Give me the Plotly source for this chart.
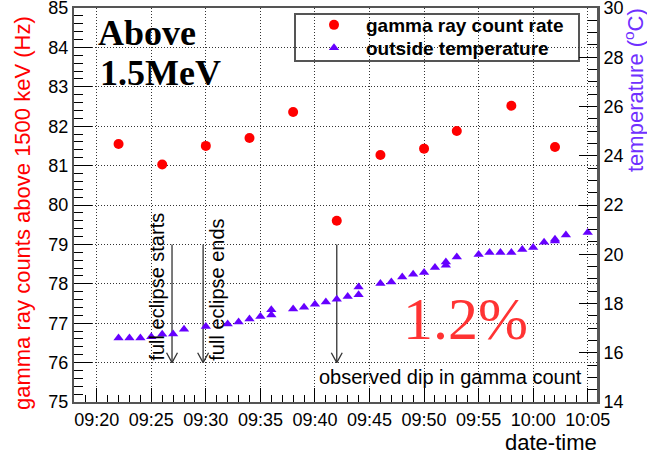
import plotly.graph_objects as go
import pandas as pd

DAY = "2017-08-21 "

# gamma ray count rate above 1500 keV (Hz)
gamma_times = ["09:22", "09:26", "09:30", "09:34", "09:38", "09:42",
               "09:46", "09:50", "09:53", "09:58", "10:02"]
gamma_rate = [81.55, 81.03, 81.50, 81.70, 82.36, 79.60,
              81.27, 81.43, 81.88, 82.52, 81.47]

# outside temperature (C)
temp_times = ["09:22", "09:23", "09:24", "09:25", "09:26", "09:27", "09:28",
              "09:30", "09:32", "09:33", "09:34", "09:35", "09:36", "09:36",
              "09:38", "09:39", "09:40", "09:41", "09:42", "09:43", "09:44",
              "09:44", "09:46", "09:47", "09:48", "09:49", "09:50", "09:51",
              "09:52", "09:52", "09:53", "09:55", "09:56", "09:57", "09:58",
              "09:59", "10:00", "10:01", "10:02", "10:02", "10:03", "10:05",
              "10:06"]
temp_vals = [16.60, 16.60, 16.60, 16.65, 16.75, 16.76, 16.95,
             17.07, 17.17, 17.25, 17.37, 17.47, 17.53, 17.75,
             17.78, 17.85, 17.97, 18.06, 18.17, 18.28, 18.36,
             18.67, 18.81, 18.87, 19.08, 19.19, 19.26, 19.46,
             19.55, 19.69, 19.89, 19.99, 20.07, 20.07, 20.07,
             20.19, 20.27, 20.49, 20.54, 20.61, 20.78, 20.88,
             20.94]

# annotated arrows
arrow_times = ["09:26:54", "09:29:45", "09:42:00"]
arrow_labels = ["full eclipse starts", "full eclipse ends", "observed dip in gamma count"]
arrow_top = 79.0
arrow_bottom = 76.0

x_range = [DAY + "09:17:55", DAY + "10:05:51"]
y_range = [75, 85]
y2_range = [14, 30]

gt = pd.to_datetime([DAY + t for t in gamma_times])
tt = pd.to_datetime([DAY + t for t in temp_times])
at = pd.to_datetime([DAY + t for t in arrow_times])

# plot area in pixels
PL, PR, PT, PB = 74, 597, 8, 402
W, H = 647, 459
def px_x(px):
    return (px - PL) / (PR - PL)
def px_y(py):
    return (PB - py) / (PB - PT)

RED = "#ff0000"
VIOLET = "#6600ff"
AXC = "#555555"
FONT = "Liberation Sans"

fig = go.Figure()
fig.add_trace(go.Scatter(
    x=gt, y=gamma_rate, mode="markers", name="gamma ray count rate",
    marker=dict(symbol="circle", size=10, color=RED), cliponaxis=False,
    legend="legend"))
fig.add_trace(go.Scatter(
    x=tt, y=temp_vals, mode="markers", name="outside temperature",
    marker=dict(symbol="triangle-up", size=9, color=VIOLET), yaxis="y2",
    cliponaxis=False, legend="legend2"))

# arrows (stem + open V head)
head_dt = pd.Timedelta(seconds=30)
head_dy = 0.25
ax_, ay_ = [], []
for t in at:
    ax_ += [t, t, None, t - head_dt, t, t + head_dt, None]
    ay_ += [arrow_top, arrow_bottom, None, arrow_bottom + head_dy, arrow_bottom,
            arrow_bottom + head_dy, None]
fig.add_trace(go.Scatter(x=ax_, y=ay_, mode="lines", showlegend=False,
                         line=dict(color="#333333", width=1.3), hoverinfo="skip"))

ann = []
ann.append(dict(text="Above", xref="paper", yref="paper", x=px_x(96), y=px_y(33),
                xanchor="left", yanchor="middle", showarrow=False,
                font=dict(family="Liberation Serif", size=36, color="black", weight="bold")))
ann.append(dict(text="1.5MeV", xref="paper", yref="paper", x=px_x(98), y=px_y(73),
                xanchor="left", yanchor="middle", showarrow=False,
                font=dict(family="Liberation Serif", size=36, color="black", weight="bold")))
ann.append(dict(text="1.2%", xref="paper", yref="paper", x=px_x(401), y=px_y(319),
                xanchor="left", yanchor="middle", showarrow=False,
                font=dict(family="Liberation Serif", size=60, color="#ff3333")))
ann.append(dict(text="gamma ray counts above 1500 keV (Hz)", xref="paper", yref="paper",
                x=px_x(22), y=px_y(213), xanchor="center", yanchor="middle",
                textangle=-90, showarrow=False,
                font=dict(family=FONT, size=22, color=RED)))
ann.append(dict(text="temperature (<sup>o</sup>C)", xref="paper", yref="paper",
                x=px_x(634), y=px_y(6), xanchor="center", yanchor="top",
                textangle=-90, showarrow=False,
                font=dict(family=FONT, size=22, color="#7030ff")))
ann.append(dict(text="date-time", xref="paper", yref="paper",
                x=px_x(599), y=px_y(443), xanchor="right", yanchor="middle",
                showarrow=False, font=dict(family=FONT, size=22, color="black")))
ann.append(dict(text=arrow_labels[0], x=at[0], y=arrow_bottom, xref="x", yref="y",
                xanchor="center", yanchor="bottom", xshift=-15, textangle=-90,
                showarrow=False, font=dict(family=FONT, size=20, color="black")))
ann.append(dict(text=arrow_labels[1], x=at[1], y=arrow_bottom, xref="x", yref="y",
                xanchor="center", yanchor="bottom", xshift=13, textangle=-90,
                showarrow=False, font=dict(family=FONT, size=20, color="black")))
ann.append(dict(text=arrow_labels[2], x=at[2], y=75.63, xref="x", yref="y",
                xanchor="left", yanchor="middle", xshift=-20,
                showarrow=False, font=dict(family=FONT, size=20, color="black")))

shapes = [dict(type="rect", xref="paper", yref="paper", x0=px_x(295), x1=px_x(579),
               y0=px_y(61), y1=px_y(14), line=dict(color=AXC, width=2),
               fillcolor="white", layer="between")]

legend_font = dict(family=FONT, size=19, color="black", weight="bold")
grid_dash = "1px,2px"
fig.update_layout(
    width=W, height=H,
    margin=dict(l=PL, r=W - PR, t=PT, b=H - PB, autoexpand=False),
    paper_bgcolor="white", plot_bgcolor="white",
    font=dict(family=FONT, size=18, color="black"),
    showlegend=True,
    legend=dict(x=px_x(302), y=px_y(25), xanchor="left", yanchor="middle",
                bgcolor="rgba(0,0,0,0)", borderwidth=0, itemwidth=54,
                font=legend_font),
    legend2=dict(x=px_x(302), y=px_y(48), xanchor="left", yanchor="middle",
                 bgcolor="rgba(0,0,0,0)", borderwidth=0, itemwidth=54,
                 font=legend_font),
    annotations=ann, shapes=shapes,
    xaxis=dict(type="date", range=x_range, tick0=DAY + "09:20:00", dtick=300000,
               tickformat="%H:%M", ticks="inside", ticklen=14, tickcolor="black",
               showline=True, linecolor=AXC, linewidth=2, mirror=True,
               showgrid=True, gridcolor="#333333", griddash=grid_dash, gridwidth=1,
               minor=dict(dtick=60000, ticks="inside", ticklen=7, tickcolor="black",
                          showgrid=False),
               tickfont=dict(family=FONT, size=18), zeroline=False, automargin=False,
               ticklabeloverflow="allow"),
    yaxis=dict(range=y_range, dtick=1, ticks="inside", ticklen=18, tickcolor="black",
               showline=True, linecolor=AXC, linewidth=2,
               showgrid=True, gridcolor="#333333", griddash=grid_dash, gridwidth=1,
               minor=dict(dtick=0.2, ticks="inside", ticklen=9, tickcolor="black",
                          showgrid=False),
               tickfont=dict(family=FONT, size=18), zeroline=False, automargin=False,
               ticklabeloverflow="allow"),
    yaxis2=dict(range=y2_range, dtick=2, overlaying="y", side="right",
                ticks="inside", ticklen=18, tickcolor="black",
                showline=True, linecolor=AXC, linewidth=3,
                showgrid=False,
                minor=dict(dtick=0.5, ticks="inside", ticklen=9, tickcolor="black"),
                tickfont=dict(family=FONT, size=18), zeroline=False, automargin=False,
                ticklabeloverflow="allow"),
)

fig.write_html("out.html")
